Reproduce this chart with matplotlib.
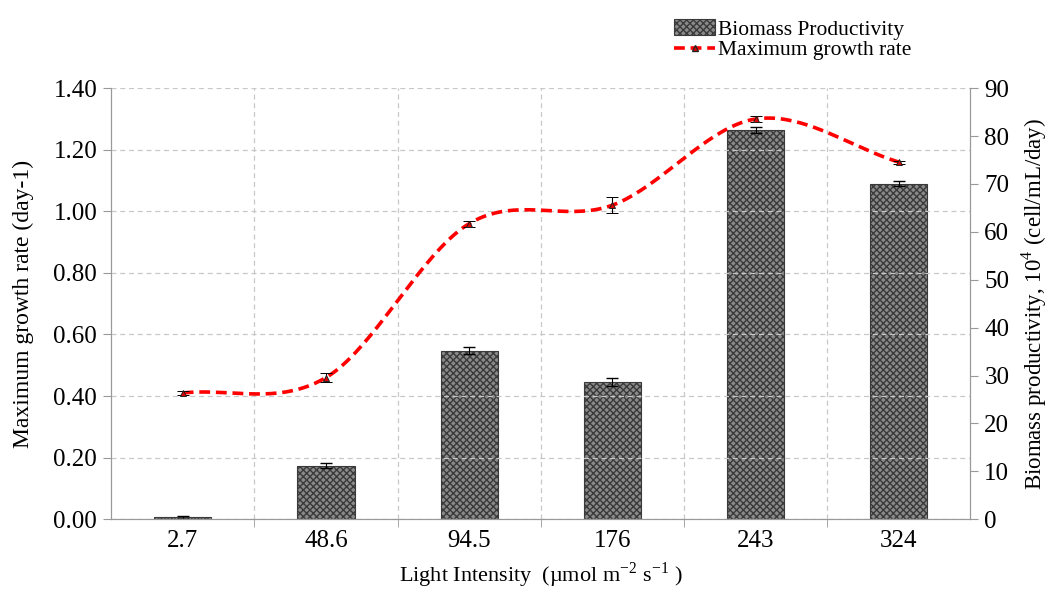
import numpy as np
import matplotlib
matplotlib.use("Agg")
import matplotlib.pyplot as plt
from matplotlib.lines import Line2D
from matplotlib.patches import Patch

plt.rcParams['font.family'] = ['Liberation Serif', 'DejaVu Serif']
plt.rcParams['hatch.linewidth'] = 1.0
plt.rcParams['mathtext.fontset'] = 'custom'
plt.rcParams['mathtext.rm'] = 'Liberation Serif'

light = ["2.7", "48.6", "94.5", "176", "243", "324"]
growth_rate = [0.41, 0.46, 0.96, 1.02, 1.30, 1.16]
growth_err = [0.005, 0.015, 0.01, 0.025, 0.01, 0.005]
productivity = [0.4, 11.2, 35.2, 28.7, 81.3, 70.1]
prod_err = [0.3, 0.5, 0.8, 0.8, 0.6, 0.5]


def smooth(xs, ys, n=40):
    # catmull-rom, roughly what excel does for "smoothed line"
    xs = np.asarray(xs, float)
    ys = np.asarray(ys, float)
    px = np.concatenate([[2 * xs[0] - xs[1]], xs, [2 * xs[-1] - xs[-2]]])
    py = np.concatenate([[2 * ys[0] - ys[1]], ys, [2 * ys[-1] - ys[-2]]])
    outx, outy = [], []
    t = np.linspace(0, 1, n)
    for i in range(1, len(px) - 2):
        for p, out in ((px, outx), (py, outy)):
            p0, p1, p2, p3 = p[i - 1], p[i], p[i + 1], p[i + 2]
            out.extend(0.5 * ((2 * p1) + (-p0 + p2) * t
                              + (2 * p0 - 5 * p1 + 4 * p2 - p3) * t ** 2
                              + (-p0 + 3 * p1 - 3 * p2 + p3) * t ** 3))
    return np.array(outx), np.array(outy)


fig = plt.figure(figsize=(10.48, 5.92), dpi=100)

ax = fig.add_axes([0.106, 0.123, 0.820, 0.728])
ax.patch.set_alpha(0)
ax2 = ax.twinx()

x = np.arange(len(light))

# bars on right axis
ax2.bar(x, productivity, width=0.4, color='#8a8a8a', edgecolor='#3a3a3a',
        hatch='xxxxx', linewidth=0.8, zorder=2)
ax2.errorbar(x, productivity, yerr=prod_err, fmt='none', ecolor='black',
             elinewidth=0.8, capsize=4, zorder=3)
ax2.set_ylim(0, 90)
ax2.set_yticks(np.arange(0, 91, 10))

# growth line on left axis
sx, sy = smooth(x, growth_rate)
ax.plot(sx, sy, color='#ff0000', linestyle=(0, (3, 1.6)), linewidth=2.6, zorder=4)
ax.errorbar(x, growth_rate, yerr=growth_err, fmt='^', color='#dd0000',
            markeredgecolor='#222222', markeredgewidth=0.7, markersize=5,
            ecolor='black', elinewidth=0.8, capsize=4, zorder=5)
ax.set_zorder(ax2.get_zorder() + 1)

ax.set_ylim(0, 1.40)
ax.set_yticks(np.arange(0, 1.41, 0.2))
ax.set_yticklabels([f"{v:.2f}" for v in np.arange(0, 1.41, 0.2)])
ax.set_xlim(-0.5, 5.5)
ax.set_xticks(x)
ax.set_xticklabels(light)
ax.set_xticks(np.arange(0.5, 5.5, 1), minor=True)
ax.tick_params(axis='x', which='major', length=0, labelsize=18, pad=8)
ax.tick_params(axis='x', which='minor', length=6, color='#999999', direction='out')
ax.tick_params(axis='y', labelsize=18, length=6, color='#999999', pad=4)
ax2.tick_params(axis='y', labelsize=18, length=6, color='#999999', pad=4)

ax.grid(True, axis='y', linestyle=(0, (4, 3)), color='#c8c8c8', linewidth=0.9)
ax.grid(True, axis='x', which='minor', linestyle=(0, (4, 3)), color='#c8c8c8', linewidth=0.9)

for a in (ax, ax2):
    a.spines['top'].set_visible(False)
    for s in ('left', 'right', 'bottom'):
        a.spines[s].set_color('#999999')

ax.set_ylabel("Maximum growth rate (day-1)", fontsize=17, labelpad=14)
ax2.set_ylabel("Biomass productivity, 10$^4$ (cell/mL/day)", fontsize=16.5, labelpad=7)
ax.set_xlabel("Light Intensity  (µmol m$^{-2}$ s$^{-1}$ )", fontsize=16, labelpad=6)

handles = [Patch(facecolor='#8a8a8a', edgecolor='#3a3a3a', hatch='xxxxx', linewidth=0.8),
           Line2D([0], [0], color='#ff0000', linestyle=(0, (3, 1.6)), linewidth=2.6,
                  marker='^', markerfacecolor='#dd0000', markeredgecolor='#222222',
                  markersize=5)]
fig.legend(handles, ['Biomass Productivity', 'Maximum growth rate'],
           loc='upper left', bbox_to_anchor=(0.627, 0.997), frameon=False,
           fontsize=15.5, handlelength=1.9, handletextpad=0.15, labelspacing=0.0,
           borderpad=0.3, handleheight=0.8)

fig.savefig("out.png", dpi=100)
